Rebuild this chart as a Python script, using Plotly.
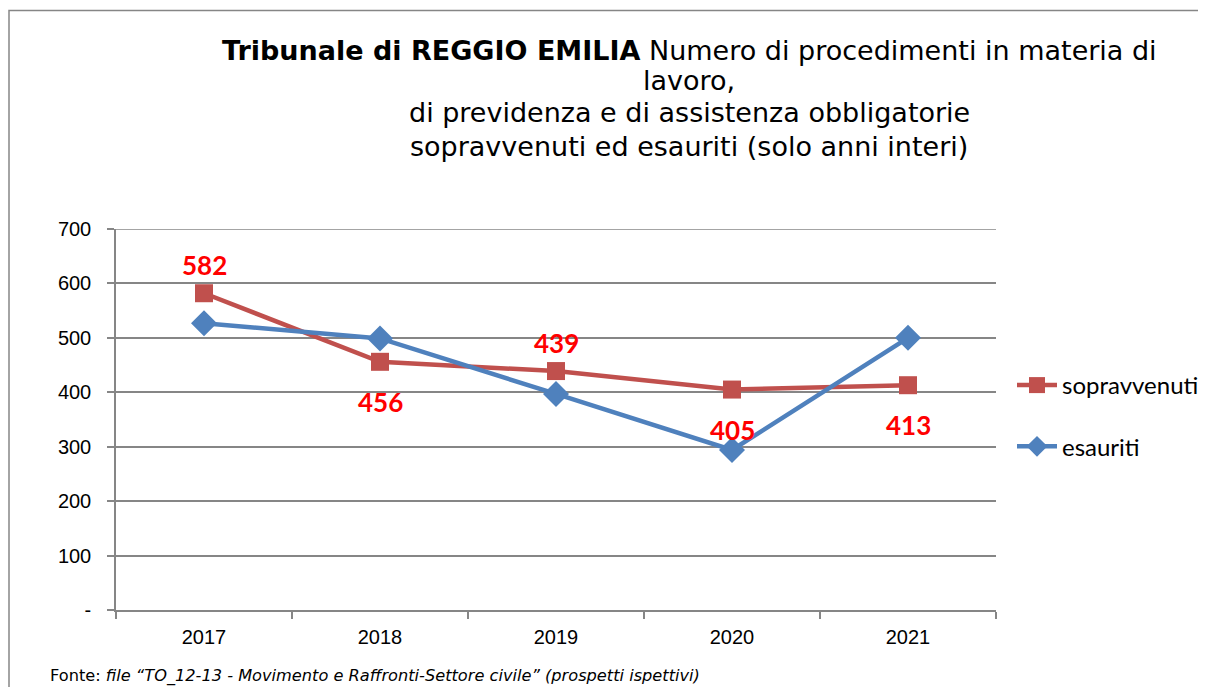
import plotly.graph_objects as go

years = ["2017", "2018", "2019", "2020", "2021"]
sopravvenuti = [582, 456, 439, 405, 413]
esauriti = [527, 499, 397, 294, 500]
label_side = ["above", "below", "above", "below", "below"]
y_ticks = [0, 100, 200, 300, 400, 500, 600, 700]
y_tick_text = ["-", "100", "200", "300", "400", "500", "600", "700"]
title_lines = [
    "<b>Tribunale di REGGIO EMILIA</b> Numero di procedimenti in materia di",
    "lavoro,",
    "di previdenza e di assistenza obbligatorie",
    "sopravvenuti ed esauriti (solo anni interi)",
]
source_text = "Fonte: <i>file “TO_12-13 - Movimento e Raffronti-Settore civile” (prospetti ispettivi)</i>"

OFF = 8  # page body margin
W, H = 1206 - OFF, 695 - 2 * OFF
# plot area in page pixels
PL, PR, PT, PB = 116, 996, 229, 610
L, R, T, B = PL - OFF, PR - OFF, PT - OFF, PB - OFF

def px(x):
    return (x - PL) / (PR - PL)

def py(y):
    return (PB - y) / (PB - PT)

fig = go.Figure()
fig.add_trace(go.Scatter(
    x=years, y=sopravvenuti, name="sopravvenuti", mode="lines+markers",
    line=dict(color="#C0504D", width=4.5),
    marker=dict(symbol="square", size=18, color="#C0504D"),
    legendgroup="a",
))
fig.add_trace(go.Scatter(
    x=years, y=esauriti, name="esauriti", mode="lines+markers",
    line=dict(color="#4F81BD", width=4.5),
    marker=dict(symbol="diamond", size=20, color="#4F81BD"),
    legendgroup="b",
))

for i, (v, side) in enumerate(zip(sopravvenuti, label_side)):
    fig.add_annotation(
        x=i, y=v, xref="x", yref="y", text=f"<b>{v}</b>", showarrow=False,
        yanchor="middle", xanchor="center",
        yshift=28 if side == "above" else -40,
        font=dict(family="Lato", size=26, color="#FF0000"),
    )

fig.update_layout(
    width=W, height=H,
    margin=dict(l=L, r=W - R, t=T, b=H - B, autoexpand=False),
    paper_bgcolor="white", plot_bgcolor="white",
    showlegend=True,
    legend=dict(x=px(1012), y=py(416), yanchor="middle", xanchor="left",
                font=dict(family="Lato", size=24, color="black"),
                tracegroupgap=27, bgcolor="rgba(0,0,0,0)", itemwidth=40),
    xaxis=dict(type="category", range=[-0.5, 4.5], showgrid=False,
               showline=True, linecolor="#868686", linewidth=1.5,
               ticks="outside", tickson="boundaries", ticklen=7, tickcolor="#868686",
               tickwidth=1.5, ticklabelstandoff=8,
               tickfont=dict(family="Liberation Sans", size=20, color="black")),
    yaxis=dict(range=[0, 700], tickvals=y_ticks, ticktext=y_tick_text,
               showgrid=True, gridcolor="#868686", gridwidth=1.5,
               showline=True, linecolor="#868686", linewidth=1.5,
               ticks="outside", ticklen=7, tickcolor="#868686", tickwidth=1.5,
               zeroline=False, ticklabelstandoff=12,
               tickfont=dict(family="Liberation Sans", size=20, color="black")),
)

# top gridline (plotly omits the gridline lying on the plot edge)
fig.add_shape(type="line", xref="paper", yref="y", x0=0, x1=1,
              y0=max(y_ticks), y1=max(y_ticks),
              line=dict(color="#868686", width=1.5), layer="below")

title_y = [50, 80, 113, 146]
for line, yy in zip(title_lines, title_y):
    fig.add_annotation(
        xref="paper", yref="paper", x=px(689), y=py(yy), xanchor="center", yanchor="middle",
        showarrow=False, align="center", text=line,
        font=dict(family="DejaVu Sans", size=27, color="black"),
    )

fig.add_annotation(
    xref="paper", yref="paper", x=px(48), y=py(676), xanchor="left", yanchor="middle",
    showarrow=False, align="left", text=source_text,
    font=dict(family="DejaVu Sans", size=16.2, color="black"),
)
fig.add_shape(type="rect", xref="paper", yref="paper",
              x0=px(9), x1=px(1230), y0=py(720), y1=py(10.5),
              line=dict(color="#868686", width=1.5), fillcolor="rgba(0,0,0,0)")

fig.write_html("out.html")
